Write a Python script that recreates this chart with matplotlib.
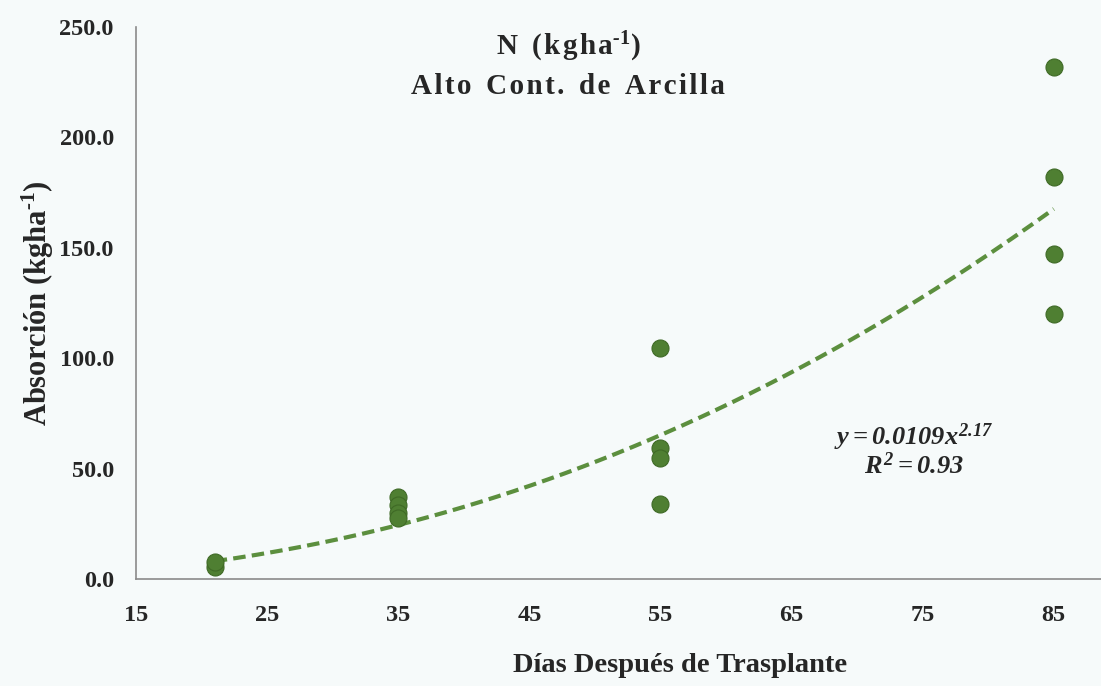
import matplotlib
matplotlib.use('Agg')
import matplotlib.pyplot as plt
import numpy as np

# data
dias_21 = [21, 21]
abs_21 = [5.5, 7.5]
dias_35 = [35, 35, 35, 35]
abs_35 = [37.0, 33.5, 30.0, 27.5]
dias_55 = [55, 55, 55, 55]
abs_55 = [104.5, 59.5, 55.0, 34.0]
dias_85 = [85, 85, 85, 85]
abs_85 = [232.0, 182.0, 147.0, 120.0]

# power fit reported in the chart
coef_a = 0.0109
coef_b = 2.17
fit_start, fit_end = 21, 85

x_ticks = [15, 25, 35, 45, 55, 65, 75, 85]
y_ticks = [0, 50, 100, 150, 200, 250]

plt.rcParams['font.family'] = 'Liberation Serif'
plt.rcParams['font.weight'] = 'bold'
plt.rcParams['mathtext.fontset'] = 'custom'
plt.rcParams['mathtext.rm'] = 'Liberation Serif:italic:bold'
plt.rcParams['mathtext.it'] = 'Liberation Serif:italic:bold'
plt.rcParams['mathtext.bf'] = 'Liberation Serif:bold'

bg = '#f6fafa'
dot_color = '#4f7f32'
line_color = '#5c8f3e'
txt = '#262626'

fig = plt.figure(figsize=(11.01, 6.86), dpi=100, facecolor=bg)
ax = fig.add_axes([136 / 1101, 1 - 579 / 686, 1 - 136 / 1101, (579 - 27) / 686])
ax.set_facecolor(bg)

xs = dias_21 + dias_35 + dias_55 + dias_85
ys = abs_21 + abs_35 + abs_55 + abs_85
ax.scatter(xs, ys, s=150, color=dot_color, edgecolors='#3f6a26', linewidths=0.8, zorder=3)

xf = np.linspace(fit_start, fit_end, 200)
ax.plot(xf, coef_a * xf ** coef_b, color=line_color, lw=3, ls=(0, (3.0, 1.5)),
        solid_capstyle='butt', dash_capstyle='butt', zorder=2)

ax.set_xlim(15, 88.6)
ax.set_ylim(0, 250)
ax.set_xticks(x_ticks)
ax.set_yticks(y_ticks)
ax.set_yticklabels([f'{v:.1f}' for v in y_ticks])
ax.tick_params(length=0, labelsize=17.5, colors=txt)
ax.tick_params(axis='x', pad=19)
ax.tick_params(axis='y', pad=16)
for lbl in ax.get_xticklabels() + ax.get_yticklabels():
    lbl.set_fontweight('bold')

for side in ['top', 'right']:
    ax.spines[side].set_visible(False)
for side in ['left', 'bottom']:
    ax.spines[side].set_color('#8a8a8a')
    ax.spines[side].set_linewidth(1.2)

fig.text(38 / 1101, 1 - 303 / 686, r'Absorción (kgha$^{\mathbf{\text{-}1}}$)', rotation=90,
         ha='center', va='center', fontsize=22, fontweight='bold', color=txt)
fig.text(680 / 1101, 1 - 665 / 686, 'Días Después de Trasplante',
         ha='center', va='center', fontsize=20.5, fontweight='bold', color=txt)


def spaced(s):
    # wide letter spacing as in the reference title
    return '\u2002'.join('\u200a'.join(w) for w in s.split(' '))


fig.text(568 / 1101, 1 - 47 / 686, spaced('N (kgha') + r'$^{\mathbf{\text{-}1}}$)',
         ha='center', va='center', fontsize=21, fontweight='bold', color=txt)
fig.text(568 / 1101, 1 - 87 / 686, spaced('Alto Cont. de Arcilla'),
         ha='center', va='center', fontsize=21, fontweight='bold', color=txt)

fig.text(914 / 1101, 1 - 437 / 686, r'$y = 0.0109x^{2.17}$',
         ha='center', va='center', fontsize=19, color=txt)
fig.text(914 / 1101, 1 - 466 / 686, r'$R^2 = 0.93$',
         ha='center', va='center', fontsize=19, color=txt)

fig.savefig('out.png', dpi=100, facecolor=bg)
